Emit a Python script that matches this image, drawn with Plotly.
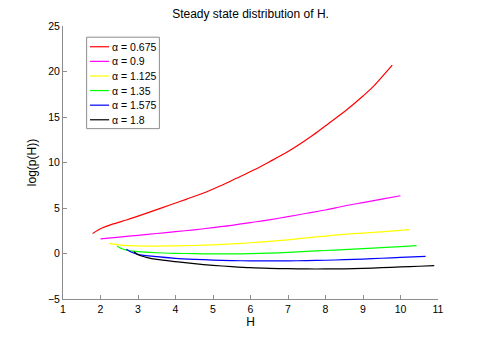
import plotly.graph_objects as go

# alpha values of the six runs
ALPHAS = ["0.675", "0.9", "1.125", "1.35", "1.575", "1.8"]
COLORS = ["#ff0000", "#ff00ff", "#ffff00", "#00ff00", "#0000ff", "#000000"]

# H values and log(p(H))
h_0675 = [1.79, 2.0, 2.34, 2.69, 3.0, 3.5, 3.85, 4.3, 4.73, 5.2, 5.62, 6.1, 6.51, 7.0, 7.67, 8.1, 8.56, 9.0, 9.27, 9.78]
p_0675 = [2.2, 2.72, 3.25, 3.68, 4.1, 4.82, 5.33, 5.98, 6.62, 7.45, 8.26, 9.2, 10.09, 11.2, 13.02, 14.35, 15.77, 17.3, 18.33, 20.7]

h_09 = [2.0, 2.5, 3.0, 3.5, 4.0, 4.5, 5.0, 5.5, 6.0, 6.5, 7.0, 7.5, 8.0, 8.5, 9.0, 9.5, 10.0]
p_09 = [1.6, 1.8, 2.0, 2.2, 2.4, 2.6, 2.85, 3.1, 3.4, 3.7, 4.05, 4.42, 4.78, 5.22, 5.6, 5.98, 6.35]

h_1125 = [2.23, 2.5, 2.78, 3.0, 3.5, 4.0, 4.5, 5.0, 5.5, 6.0, 6.5, 7.0, 7.5, 8.0, 8.5, 9.0, 9.5, 10.23]
p_1125 = [1.12, 0.95, 0.86, 0.83, 0.82, 0.84, 0.88, 0.95, 1.05, 1.18, 1.33, 1.5, 1.72, 1.92, 2.1, 2.25, 2.38, 2.62]

h_135 = [2.44, 2.55, 2.7, 3.0, 3.5, 4.0, 4.5, 5.0, 5.5, 6.0, 6.5, 7.0, 7.5, 8.0, 8.5, 9.0, 9.5, 10.0, 10.43]
p_135 = [0.82, 0.55, 0.38, 0.2, 0.08, 0.02, -0.02, -0.04, -0.04, -0.02, 0.04, 0.12, 0.23, 0.33, 0.43, 0.54, 0.65, 0.76, 0.86]

h_1575 = [2.69, 2.8, 3.0, 3.5, 4.0, 4.5, 5.0, 5.5, 6.0, 6.5, 7.0, 7.5, 8.0, 8.5, 9.0, 9.5, 10.0, 10.67]
p_1575 = [0.46, 0.2, -0.09, -0.35, -0.53, -0.64, -0.72, -0.78, -0.81, -0.82, -0.81, -0.78, -0.74, -0.68, -0.61, -0.52, -0.43, -0.31]

h_18 = [2.89, 3.0, 3.25, 3.5, 4.0, 4.5, 5.0, 5.5, 6.0, 6.5, 7.0, 7.5, 8.0, 8.5, 9.0, 9.5, 10.0, 10.5, 10.9]
p_18 = [0.2, -0.13, -0.45, -0.65, -0.9, -1.12, -1.3, -1.44, -1.56, -1.63, -1.67, -1.7, -1.7, -1.68, -1.63, -1.56, -1.48, -1.4, -1.34]

X_TICKS = [1, 2, 3, 4, 5, 6, 7, 8, 9, 10, 11]
Y_TICKS = [-5, 0, 5, 10, 15, 20, 25]

series = [(h_0675, p_0675), (h_09, p_09), (h_1125, p_1125),
          (h_135, p_135), (h_1575, p_1575), (h_18, p_18)]

FONT = "Liberation Sans, Arial, Helvetica, sans-serif"
GREY = "#8c8c8c"

fig = go.Figure()
for a, c, (h, p) in zip(ALPHAS, COLORS, series):
    fig.add_trace(go.Scatter(
        x=h, y=p, mode="lines", name=f"\u03b1 = {a}",
        line=dict(color=c, width=1.2, shape="spline", smoothing=0.8),
    ))

axis_style = dict(
    showline=True, linecolor=GREY, linewidth=1,
    ticks="inside", ticklen=4, tickcolor=GREY, tickwidth=1,
    showgrid=False, zeroline=False, mirror=False, automargin=False,
    tickfont=dict(family=FONT, size=10.5, color="black"),
)

fig.update_xaxes(range=[1, 11], tickvals=X_TICKS,
                 title=dict(text="H", font=dict(family=FONT, size=12, color="black"), standoff=1),
                 **axis_style)
fig.update_yaxes(range=[-5, 25], tickvals=Y_TICKS,
                 title=dict(text="log(p(H))", font=dict(family=FONT, size=12, color="black"), standoff=8),
                 **axis_style)

# MATLAB-style legend box, drawn in paper coordinates (compact line samples)
LEG_X0, LEG_X1, LEG_Y0, LEG_Y1 = 0.063, 0.257, 0.624, 0.959
fig.add_shape(type="rect", xref="paper", yref="paper",
              x0=LEG_X0, x1=LEG_X1, y0=LEG_Y0, y1=LEG_Y1,
              line=dict(color=GREY, width=1), fillcolor="white", layer="above")
for i, (a, c) in enumerate(zip(ALPHAS, COLORS)):
    yy = 0.924 - i * 0.0535
    fig.add_shape(type="line", xref="paper", yref="paper",
                  x0=0.072, x1=0.123, y0=yy, y1=yy,
                  line=dict(color=c, width=1.2), layer="above")
    fig.add_annotation(x=0.126, y=yy, xref="paper", yref="paper",
                       text=f"\u03b1 = {a}", showarrow=False,
                       xanchor="left", yanchor="middle",
                       font=dict(family=FONT, size=10.5, color="black"))

# the page body keeps its default 8px margin, so the figure is 8px smaller
fig.update_layout(
    width=477, height=329,
    margin=dict(l=55, r=47, t=18, b=38),
    paper_bgcolor="white", plot_bgcolor="white",
    font=dict(family=FONT, color="black"),
    title=dict(text="Steady state distribution of H.", x=0.5, xref="paper",
               y=1 - 6 / 329, yref="container", xanchor="center", yanchor="middle",
               font=dict(family=FONT, size=12, color="black")),
    showlegend=False,
)

fig.write_html("out.html")
